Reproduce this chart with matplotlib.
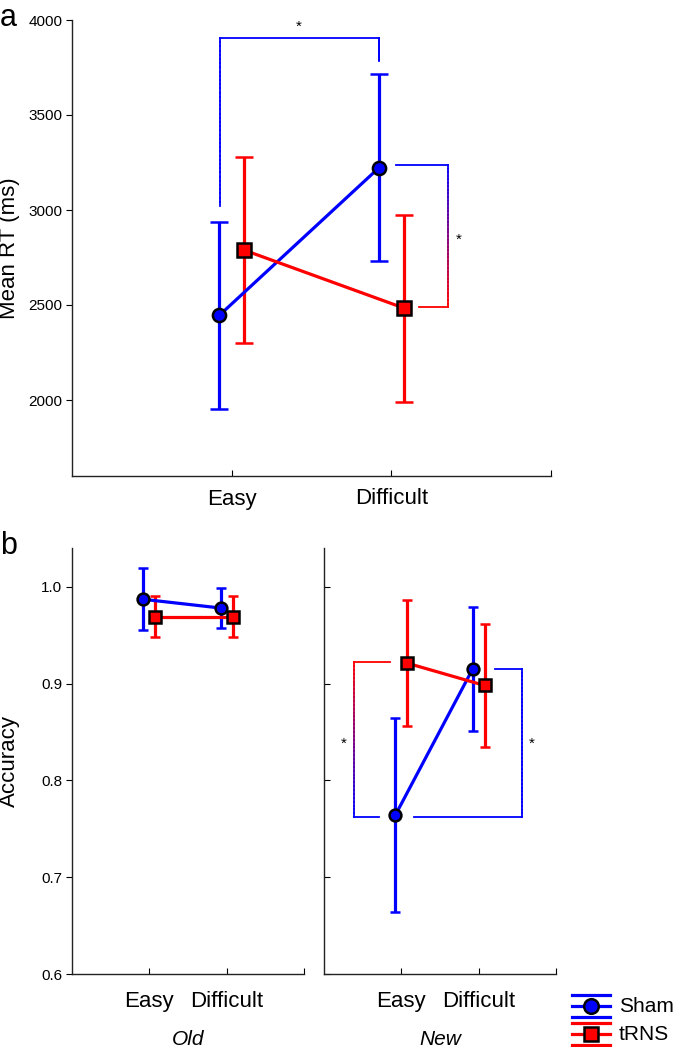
import numpy as np
import matplotlib
matplotlib.use("Agg")
import matplotlib.pyplot as plt
from matplotlib.collections import LineCollection
from matplotlib.lines import Line2D

plt.rcParams['font.family'] = ['Liberation Sans', 'DejaVu Sans']

# ---- data ----
conditions = ["Easy", "Difficult"]
groups = ["Sham", "tRNS"]

# panel a: mean RT (ms) and error
rt_sham = [2445, 3222]
rt_sham_err = [490, 493]
rt_trns = [2789, 2484]
rt_trns_err = [490, 492]

# panel b: accuracy, Old items
acc_old_sham = [0.987, 0.978]
acc_old_sham_err = [0.032, 0.021]
acc_old_trns = [0.969, 0.969]
acc_old_trns_err = [0.021, 0.021]

# panel b: accuracy, New items
acc_new_sham = [0.764, 0.915]
acc_new_sham_err = [0.100, 0.064]
acc_new_trns = [0.921, 0.898]
acc_new_trns_err = [0.065, 0.064]

# significance brackets (x in category units, y in data units)
br_a_top = [(0.925, 3021), (0.925, 3905), (1.925, 3905), (1.925, 3784)]
br_a_right = [(2.03, 3237), (2.356, 3237), (2.356, 2489), (2.175, 2489)]
br_new_left = [(0.854, 0.922), (0.388, 0.922), (0.388, 0.762), (0.71, 0.762)]
br_new_right = [(2.21, 0.915), (2.56, 0.915), (2.56, 0.762), (1.16, 0.762)]

BLUE = (0, 0, 1)
RED = (1, 0, 0)
off = 0.078


def bracket(ax, pts, c_top, c_bot, lw=1.3):
    pts = np.array(pts, dtype=float)
    ys = pts[:, 1]
    ytop, ybot = ys.max(), ys.min()
    segs, cols = [], []
    for (x0, y0), (x1, y1) in zip(pts[:-1], pts[1:]):
        n = 1 if y0 == y1 else 40
        xx = np.linspace(x0, x1, n + 1)
        yy = np.linspace(y0, y1, n + 1)
        for i in range(n):
            segs.append([(xx[i], yy[i]), (xx[i + 1], yy[i + 1])])
            ym = 0.5 * (yy[i] + yy[i + 1])
            t = 0 if ytop == ybot else (ytop - ym) / (ytop - ybot)
            cols.append(tuple(np.array(c_top) * (1 - t) + np.array(c_bot) * t))
    lc = LineCollection(segs, colors=cols, linewidths=lw, capstyle='projecting')
    ax.add_collection(lc)


def series(ax, x, y, err, color, marker, ms, capsize):
    ax.errorbar(x, y, yerr=err, color=color, lw=2.3, elinewidth=2.3,
                capsize=capsize, capthick=2.3, marker=marker, ms=ms,
                mfc=color, mec='black', mew=1.8, zorder=3)


def style(ax, left_out=True):
    for s in ['top', 'right']:
        ax.spines[s].set_visible(False)
    for s in ['left', 'bottom']:
        ax.spines[s].set_color('#222222')
        ax.spines[s].set_linewidth(1.0)
    ax.tick_params(axis='y', direction='out' if left_out else 'in',
                   length=4, width=0.8, labelsize=11, pad=3)
    ax.tick_params(axis='x', direction='in', length=4, width=0.8,
                   labelsize=16, pad=9)


fig = plt.figure(figsize=(6.8, 10.47), dpi=100)
W, H = 680, 1047

# ---- panel a ----
axa = fig.add_axes([72 / W, 1 - 476 / H, (551 - 72) / W, (476 - 20) / H])
xpos = np.arange(1, len(conditions) + 1)
series(axa, xpos - off, rt_sham, rt_sham_err, BLUE, 'o', 9.5, 6.5)
series(axa, xpos + off, rt_trns, rt_trns_err, RED, 's', 9.5, 6.5)
axa.set_xlim(0, 3)
axa.set_ylim(1600, 4000)
axa.set_yticks([2000, 2500, 3000, 3500, 4000])
axa.set_xticks([1, 2, 3])
axa.set_xticklabels(conditions + [""])
axa.set_ylabel("Mean RT (ms)", fontsize=16)
axa.yaxis.set_label_coords(-52 / 479, 0.5)
style(axa)
bracket(axa, br_a_top, BLUE, BLUE)
bracket(axa, br_a_right, BLUE, RED)
axa.text(1.42, 3962, "*", ha='center', va='center', fontsize=11)
axa.text(2.42, 2845, "*", ha='center', va='center', fontsize=11)
fig.text(0, 1 - 18 / H, "a", fontsize=22, ha='left', va='center')

# ---- panel b ----
axo = fig.add_axes([72 / W, 1 - 974 / H, (304 - 72) / W, (974 - 548) / H])
axn = fig.add_axes([324 / W, 1 - 974 / H, (556 - 324) / W, (974 - 548) / H])

series(axo, xpos - off, acc_old_sham, acc_old_sham_err, BLUE, 'o', 8.5, 3.8)
series(axo, xpos + off, acc_old_trns, acc_old_trns_err, RED, 's', 8.5, 3.8)
series(axn, xpos - off, acc_new_sham, acc_new_sham_err, BLUE, 'o', 8.5, 3.8)
series(axn, xpos + off, acc_new_trns, acc_new_trns_err, RED, 's', 8.5, 3.8)

for ax, name, out in [(axo, "Old", True), (axn, "New", False)]:
    ax.set_xlim(0, 3)
    ax.set_ylim(0.6, 1.04)
    ax.set_yticks([0.6, 0.7, 0.8, 0.9, 1.0])
    ax.set_xticks([1, 2, 3])
    ax.set_xticklabels(conditions + [""])
    ax.set_xlabel(name, fontsize=15, style='italic')
    ax.xaxis.set_label_coords(0.5, -56 / 426)
    style(ax, left_out=out)
    ax.tick_params(axis='x', pad=12)

axo.set_yticklabels(["0.6", "0.7", "0.8", "0.9", "1.0"])
axn.set_yticklabels([])
axo.set_ylabel("Accuracy", fontsize=16)
axo.yaxis.set_label_coords(-52 / 232, 0.5)

bracket(axn, br_new_left, RED, BLUE)
bracket(axn, br_new_right, BLUE, BLUE)
axn.text(0.26, 0.838, "*", ha='center', va='center', fontsize=11)
axn.text(2.69, 0.838, "*", ha='center', va='center', fontsize=11)
fig.text(0, 1 - 546 / H, "b", fontsize=22, ha='left', va='center')

# ---- legend ----
axl = fig.add_axes([570 / W, 0, (W - 570) / W, 60 / H])
axl.set_xlim(570, W)
axl.set_ylim(H, H - 60)
axl.axis('off')
for name, color, marker, yc in [("Sham", BLUE, 'o', 1006), ("tRNS", RED, 's', 1034)]:
    for dy in (-11, 0, 11):
        axl.add_line(Line2D([572, 610], [yc + dy, yc + dy], color=color, lw=2.3))
    axl.plot([591], [yc], marker=marker, ms=10.5, mfc=color, mec='black', mew=1.8)
    axl.text(619, yc, name, fontsize=15, va='center', ha='left')

fig.savefig("out.png", dpi=100)
